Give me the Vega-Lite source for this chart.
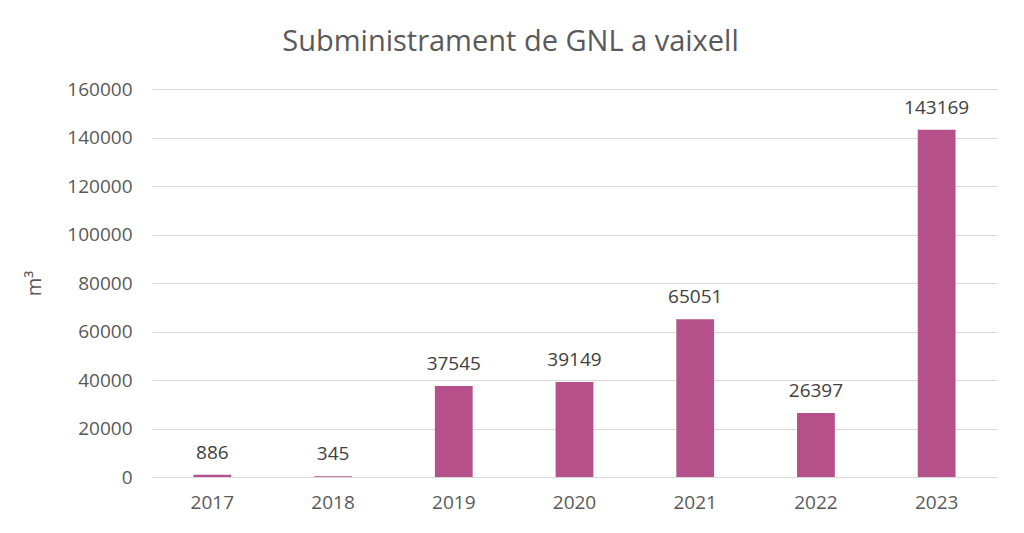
{
  "$schema": "https://vega.github.io/schema/vega-lite/v6.json",
  "autosize": {"type": "none"},
  "width": 845,
  "height": 388,
  "padding": {"left": 152, "top": 89, "right": 27, "bottom": 56},
  "background": "white",
  "data": {"values": [
    {"year": "2017", "value": 886},
    {"year": "2018", "value": 345},
    {"year": "2019", "value": 37545},
    {"year": "2020", "value": 39149},
    {"year": "2021", "value": 65051},
    {"year": "2022", "value": 26397},
    {"year": "2023", "value": 143169}
  ]},
  "title": {
    "text": "Subministrament de GNL a vaixell",
    "font": "Open Sans",
    "fontSize": 29,
    "fontWeight": "normal",
    "color": "#595959",
    "anchor": "middle",
    "frame": "bounds",
    "offset": 23
  },
  "config": {
    "view": {"stroke": null},
    "axis": {"labelFont": "Open Sans", "titleFont": "Open Sans", "labelColor": "#595959", "titleColor": "#595959"}
  },
  "encoding": {
    "x": {
      "field": "year", "type": "nominal",
      "scale": {"paddingInner": 0.687, "paddingOuter": 0.3435},
      "axis": {"title": null, "labelAngle": 0, "domain": false, "ticks": false, "labelFontSize": 19, "labelPadding": 16}
    },
    "y": {
      "field": "value", "type": "quantitative",
      "scale": {"domain": [0, 160000]},
      "axis": {
        "title": "m³", "titleFontSize": 20, "titleFontWeight": "normal", "titleX": -108, "titleY": 194,
        "values": [0, 20000, 40000, 60000, 80000, 100000, 120000, 140000, 160000],
        "format": "d", "domain": false, "ticks": false, "labelFontSize": 19, "labelPadding": 20,
        "gridColor": "#D9D9D9", "gridWidth": 1.2
      }
    }
  },
  "layer": [
    {"mark": {"type": "bar", "color": "#B5508A"}},
    {
      "mark": {"type": "text", "baseline": "bottom", "dy": -12, "font": "Open Sans", "fontSize": 19, "color": "#404040"},
      "encoding": {"text": {"field": "value", "type": "quantitative", "format": "d"}}
    }
  ]
}
